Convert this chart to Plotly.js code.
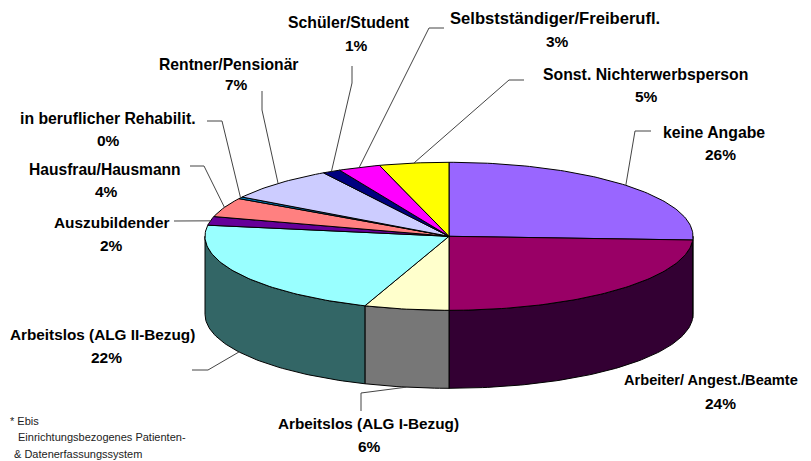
<!DOCTYPE html>
<html><head><meta charset="utf-8">
<script src="https://cdn.plot.ly/plotly-3.0.1.min.js"></script>
<style>html,body{margin:0;padding:0;background:#fff}#c{width:811px;height:461px}</style>
</head><body><div id="c"></div>
<script>
// ---- data ----
const categories = ["keine Angabe","Arbeiter/ Angest./Beamte","Arbeitslos (ALG I-Bezug)","Arbeitslos (ALG II-Bezug)","Auszubildender","Hausfrau/Hausmann","in beruflicher Rehabilit.","Rentner/Pensionär","Schüler/Student","Selbstständiger/Freiberufl.","Sonst. Nichterwerbsperson"];
const shares = [25.8,24.2,5.6,21.8,1.9,4.2,0.4,7.5,1.2,2.8,4.6];
const percentLabels = ["26%","24%","6%","22%","2%","4%","0%","7%","1%","3%","5%"];
const footnoteLines = ["* Ebis","Einrichtungsbezogenes Patienten-","& Datenerfassungssystem"];
const topColors = ["#9966FF","#990066","#FFFFCC","#99FFFF","#660099","#FF8080","#0080C0","#CCCCFF","#000080","#FF00FF","#FFFF00"];
const sideColors = ["#330033","#330033","#777777","#336666","#336666","#336666","#336666","#336666","#336666","#336666","#336666"];
// ---- layout of the tilted disc and its labels ----
const cx=449, cy=236.3, rx=244, ry=74, depth=78;
const nameX=[713.5,711,368,102,111,105,108,228,349,555,645];
const nameY=[132,380,423,334,222,169,118,64,22,18,74];
const nameSize=[15.8,14.6,15.3,15.3,15.4,15.6,15.8,15.7,15.8,16.6,15.8];
const pctX=[720,720,369,106,111,106,108,236,356,557,646];
const pctY=[154,403,446,357,245,191,140,84,45,41,96];
const footX=[8,16,12], footY=[421,437,454];
const elbows=[[[635,131],[651,131]],[],[[361,393],[361,411]],[[208,370],[192,370]],[[174,221]],[[204,166],[190,166]],[[222,121],[207,121]],[[262,110],[262,91]],[[352,83],[352,66]],[[429,28],[444,28]],[[509,80],[524,80]]];

const px=a=>cx+rx*Math.sin(a), py=a=>cy-ry*Math.cos(a);
const total=shares.reduce((s,v)=>s+v,0);
const line={color:"#000",width:1};
const traces=[];
function arc(a,b){const n=Math.max(2,Math.ceil(Math.abs(b-a)/0.02));const r=[];for(let i=0;i<=n;i++)r.push(a+(b-a)*i/n);return r;}
let acc=0;
const angles=shares.map(v=>{const a=acc/total*2*Math.PI;acc+=v;return [a,acc/total*2*Math.PI];});
// side walls
shares.forEach((v,i)=>{
  const a=Math.max(angles[i][0],Math.PI/2), b=Math.min(angles[i][1],3*Math.PI/2);
  if(b<=a) return;
  const t=arc(a,b);
  const xs=t.map(px).concat(t.slice().reverse().map(px),[px(a)]);
  const ys=t.map(py).concat(t.slice().reverse().map(q=>py(q)+depth),[py(a)]);
  traces.push({type:"scatter",mode:"lines",x:xs,y:ys,fill:"toself",fillcolor:sideColors[i],line,hoverinfo:"skip",showlegend:false});
});
// top face
shares.forEach((v,i)=>{
  const t=arc(angles[i][0],angles[i][1]);
  traces.push({type:"scatter",mode:"lines",x:[cx].concat(t.map(px),[cx]),y:[cy].concat(t.map(py),[cy]),fill:"toself",fillcolor:topColors[i],line,name:categories[i],text:percentLabels[i],hoverinfo:"name+text",showlegend:false});
});
// leader lines start at each slice's rim
const rimDepth=[0,0,1,1,0,0,0,0,0,0,0];
shares.forEach((v,i)=>{
  if(!elbows[i].length) return;
  const m=(angles[i][0]+angles[i][1])/2;
  const xs=[px(m)], ys=[py(m)+rimDepth[i]*depth];
  elbows[i].forEach(p=>{xs.push(p[0]);ys.push(p[1]);});
  traces.push({type:"scatter",mode:"lines",x:xs,y:ys,line:{color:"#444",width:1},hoverinfo:"skip",showlegend:false});
});
const fam="Liberation Sans, Arial, sans-serif";
const note=(text,x,y,size,bold,color)=>({x,y,xref:"x",yref:"y",text:bold?"<b>"+text+"</b>":text,showarrow:false,xanchor:bold?"center":"left",yanchor:"middle",font:{family:fam,size,color}});
const annotations=[];
categories.forEach((c,i)=>{
  annotations.push(note(c,nameX[i],nameY[i],nameSize[i],true,"#000"));
  annotations.push(note(percentLabels[i],pctX[i],pctY[i],15.5,true,"#000"));
});
footnoteLines.forEach((t,i)=>annotations.push(note(t,footX[i],footY[i],11,false,"#222")));
Plotly.newPlot("c",traces,{width:811,height:461,margin:{l:0,r:0,t:0,b:0},paper_bgcolor:"#fff",plot_bgcolor:"#fff",
 xaxis:{range:[0,811],visible:false,fixedrange:true},yaxis:{range:[461,0],visible:false,fixedrange:true},annotations,showlegend:false},{displayModeBar:false,staticPlot:true});
</script></body></html>
